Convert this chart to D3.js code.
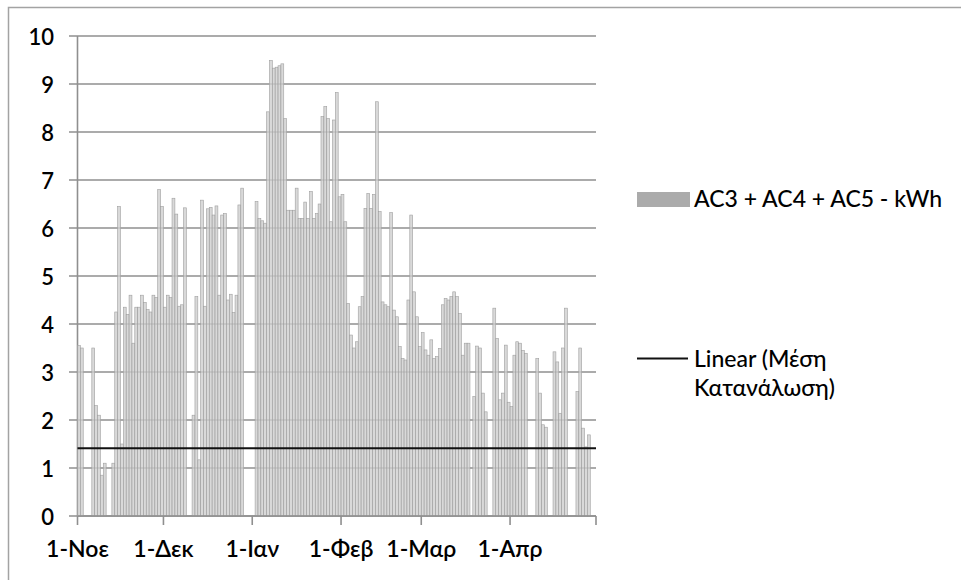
<!DOCTYPE html>
<html>
<head>
<meta charset="utf-8">
<script src="https://cdn.jsdelivr.net/npm/d3@7"></script>
<style>
  html, body { margin: 0; padding: 0; background: #fff; }
  svg { display: block; }
  text { font-family: Lato, "Noto Sans", "Open Sans", sans-serif; fill: #000; }
</style>
</head>
<body>
<svg id="chart" width="961" height="580"></svg>
<script>
// ---------------- DATA ----------------
const startDate = "2010-11-01";
const endDate = "2011-05-01";

// Daily values (kWh), Nov -> Apr
const novValues = [3.55, 3.5, 0, 0, 0, 3.5, 2.3, 2.1, 0.85, 1.1,
                   0, 0, 1.1, 4.25, 6.45, 1.5, 4.35, 4.2, 4.6, 3.6,
                   4.35, 4.35, 4.6, 4.45, 4.3, 4.25, 4.6, 4.55, 6.8, 6.45];
const decValues = [4.35, 4.6, 4.55, 6.62, 6.29, 4.37, 4.4, 6.42, 0, 0,
                   2.1, 4.57, 1.17, 6.58, 4.37, 6.4, 6.43, 6.27, 6.46, 4.6,
                   6.27, 6.3, 4.5, 4.62, 4.24, 4.6, 6.48, 6.83, 0, 0, 0];
const janValues = [0, 6.55, 6.2, 6.15, 6.1, 8.42, 9.49, 9.33, 9.35, 9.38,
                   9.42, 8.28, 6.37, 6.37, 6.37, 6.83, 6.2, 6.2, 6.54, 6.2,
                   6.76, 6.2, 6.3, 6.5, 8.32, 8.53, 8.28, 6.13, 8.25, 8.82, 6.65];
const febValues = [6.7, 6.13, 4.43, 3.77, 3.5, 3.63, 4.36, 4.57, 6.41, 6.72,
                   6.41, 6.7, 8.63, 6.34, 4.46, 4.4, 4.36, 6.32, 4.29, 4.15,
                   3.53, 3.28, 3.25, 4.5, 6.27, 4.67, 4.15, 3.53];
const marValues = [3.82, 3.46, 3.35, 3.67, 3.28, 3.32, 3.49, 4.4, 4.53, 4.5,
                   4.57, 4.67, 4.57, 4.22, 3.35, 3.6, 3.6, 0, 2.49, 3.54,
                   3.5, 2.56, 2.17, 0, 0, 4.33, 3.7, 2.42, 2.56, 3.56, 2.37];
const aprValues = [2.28, 3.35, 3.63, 3.6, 3.45, 3.39, 0, 0, 0, 3.28,
                   2.56, 1.9, 1.85, 0, 0, 3.42, 3.21, 2.14, 3.5, 4.33,
                   0, 0, 0, 2.59, 3.5, 1.83, 1.44, 1.69, 0, 0];

// Linear trendline of "Μέση Κατανάλωση" (start, end)
const trendValues = [1.41, 1.41];

const yTicks = [0, 1, 2, 3, 4, 5, 6, 7, 8, 9, 10];
const monthTickDates = ["2010-11-01", "2010-12-01", "2011-01-01", "2011-02-01", "2011-03-01", "2011-04-01"];
const monthTickLabels = ["1-Νοε", "1-Δεκ", "1-Ιαν", "1-Φεβ", "1-Μαρ", "1-Απρ"];

const seriesName = "AC3 + AC4 + AC5 - kWh";
const trendNameLines = ["Linear (Μέση", "Κατανάλωση)"];

// ---------------- BUILD ----------------
const parse = d3.utcParse("%Y-%m-%d");
const values = [].concat(novValues, decValues, janValues, febValues, marValues, aprValues);
const t0 = parse(startDate), t1 = parse(endDate);
const data = values.map((v, i) => ({ date: d3.utcDay.offset(t0, i), value: v }));

const svg = d3.select("#chart");
const W = 961, H = 580;

// outer border
svg.append("rect")
  .attr("x", 8.5).attr("y", 7.5).attr("width", W + 20).attr("height", H + 20)
  .attr("fill", "none").attr("stroke", "#a3a3a3").attr("stroke-width", 1.5);

const x = d3.scaleUtc().domain([t0, t1]).range([77.5, 596]);
const y = d3.scaleLinear().domain([0, 10]).range([516, 36]);

// gridlines (with tick stubs on the left)
const grid = svg.append("g");
grid.selectAll("line").data(yTicks).join("line")
  .attr("x1", 69).attr("x2", 596)
  .attr("y1", d => y(d)).attr("y2", d => y(d))
  .attr("stroke", "#8f8f8f").attr("stroke-width", 1.6);

// y axis line
svg.append("line")
  .attr("x1", x(t0)).attr("x2", x(t0)).attr("y1", y(10)).attr("y2", y(0))
  .attr("stroke", "#8f8f8f").attr("stroke-width", 1.6);

// y labels
svg.append("g").selectAll("text").data(yTicks).join("text")
  .attr("x", 54).attr("y", d => y(d))
  .attr("text-anchor", "end").attr("dominant-baseline", "central")
  .attr("font-size", 22).attr("font-weight", 600)
  .text(d => d);

// bars
svg.append("g").selectAll("rect").data(data.filter(d => d.value > 0)).join("rect")
  .attr("x", d => x(d.date))
  .attr("width", d => x(d3.utcDay.offset(d.date, 1)) - x(d.date))
  .attr("y", d => y(d.value))
  .attr("height", d => y(0) - y(d.value))
  .attr("fill", "#cfcfcf").attr("fill-opacity", 0.8)
  .attr("stroke", "#9f9f9f").attr("stroke-width", 0.6);

// x axis ticks and labels
const tickDates = monthTickDates.map(parse).concat([t1]);
svg.append("g").selectAll("line").data(tickDates).join("line")
  .attr("x1", d => x(d)).attr("x2", d => x(d))
  .attr("y1", y(0)).attr("y2", y(0) + 9)
  .attr("stroke", "#8f8f8f").attr("stroke-width", 1.6);
svg.append("line")
  .attr("x1", x(t0)).attr("x2", x(t1)).attr("y1", y(0)).attr("y2", y(0))
  .attr("stroke", "#8f8f8f").attr("stroke-width", 1.6);

svg.append("g").selectAll("text").data(monthTickDates).join("text")
  .attr("x", d => x(parse(d))).attr("y", 557)
  .attr("text-anchor", "middle")
  .attr("font-size", 23).attr("font-weight", 600)
  .text((d, i) => monthTickLabels[i]);

// trendline
const trendDates = [t0, t1];
svg.append("path")
  .datum(trendValues.map((v, i) => ({ date: trendDates[i], value: v })))
  .attr("d", d3.line().x(d => x(d.date)).y(d => y(d.value)))
  .attr("fill", "none").attr("stroke", "#111").attr("stroke-width", 2);

// legend
const lg = svg.append("g");
lg.append("rect").attr("x", 637).attr("y", 192).attr("width", 53).attr("height", 15)
  .attr("fill", "#ababab");
lg.append("text").attr("x", 694).attr("y", 207)
  .attr("font-size", 23).attr("font-weight", 500).text(seriesName);
lg.append("line").attr("x1", 637).attr("x2", 688).attr("y1", 358.5).attr("y2", 358.5)
  .attr("stroke", "#111").attr("stroke-width", 2);
lg.selectAll("text.tn").data(trendNameLines).join("text").attr("class", "tn")
  .attr("x", 694).attr("y", (d, i) => 367 + i * 29)
  .attr("font-size", 23).attr("font-weight", 500).text(d => d);
</script>
</body>
</html>
